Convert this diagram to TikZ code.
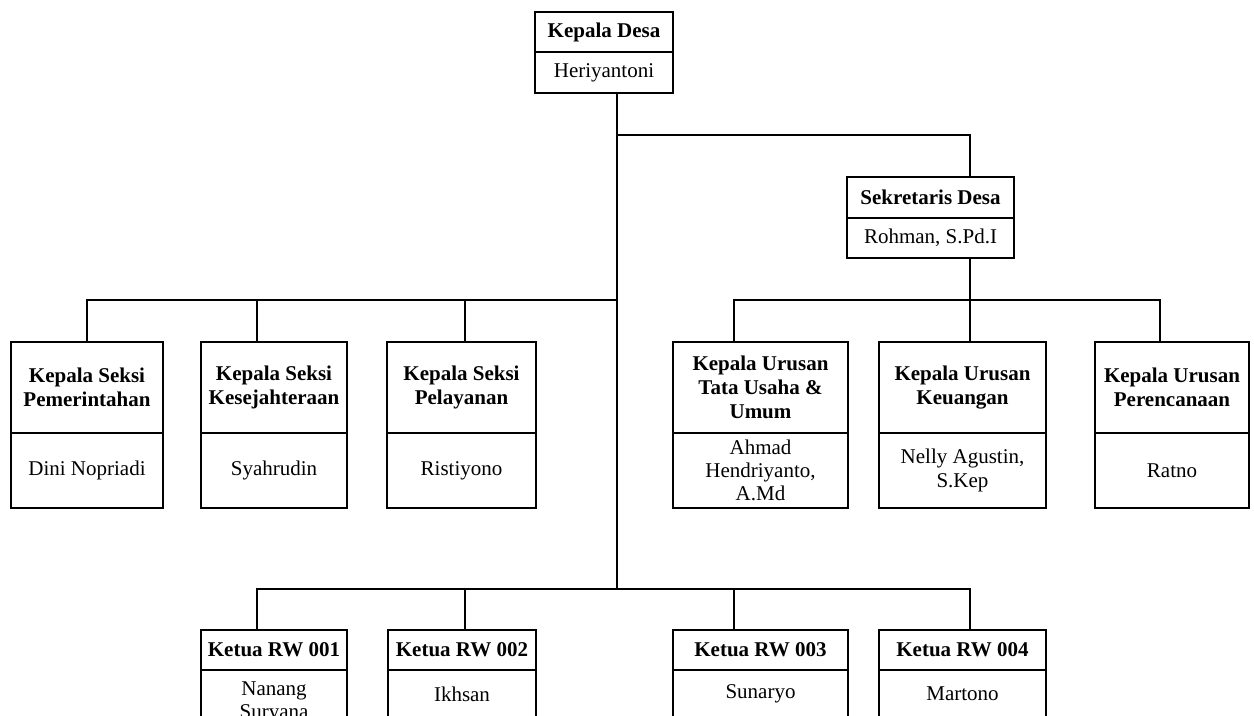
\documentclass[tikz,border=0pt]{standalone}
\usepackage{fontspec}
\setmainfont{Liberation Serif}

\tikzset{
  head/.style={draw, line width=1pt, align=center, inner sep=0pt, fill=white,
    font=\fontsize{10.5}{11.9}\selectfont\bfseries},
  person/.style={draw, line width=1pt, align=center, inner sep=0pt, fill=white,
    font=\fontsize{10.5}{11.6}\selectfont},
  link/.style={line width=1pt}
}

\begin{document}
\begin{tikzpicture}[x=0.5pt,y=-0.5pt]
\useasboundingbox (0,0) rectangle (1254,716);
\clip (0,0) rectangle (1254,716);

% columns of the stems and the trunk
\coordinate (x1) at (87,0);
\coordinate (x2) at (257,0);
\coordinate (x3) at (465,0);
\coordinate (x4) at (734,0);
\coordinate (x5) at (970,0);
\coordinate (x6) at (1160,0);
\coordinate (t1) at (617,135);
\coordinate (t2) at (617,300);
\coordinate (t3) at (617,589);

% kepala desa
\node[head, minimum width=69pt, minimum height=20pt] at (604,32) (kdh) {Kepala Desa};
\node[person, minimum width=69pt, minimum height=20.5pt] at (604,72.5) (kdn) {Heriyantoni};

% sekretaris
\node[head, minimum width=83.5pt, minimum height=20.5pt] at (930.5,197.5) (sdh) {Sekretaris Desa};
\node[person, minimum width=83.5pt, minimum height=20pt] at (930.5,238) (sdn) {Rohman, S.Pd.I};

% kepala seksi
\node[head, minimum width=76pt, minimum height=45.5pt] at (87,387.5) (kasi1) {Kepala Seksi\\Pemerintahan};
\node[person, minimum width=76pt, minimum height=37.5pt] at (87,470.5) (kasin1) {Dini Nopriadi};
\node[head, minimum width=73pt, minimum height=45.5pt] at (274,387.5) (kasi2) {Kepala Seksi\\Kesejahteraan};
\node[person, minimum width=73pt, minimum height=37.5pt] at (274,470.5) (kasin2) {Syahrudin};
\node[head, minimum width=74.5pt, minimum height=45.5pt] at (461.5,387.5) (kasi3) {Kepala Seksi\\Pelayanan};
\node[person, minimum width=74.5pt, minimum height=37.5pt] at (461.5,470.5) (kasin3) {Ristiyono};

% kepala urusan
\node[head, minimum width=87.5pt, minimum height=45.5pt] at (760.5,387.5) (kaur1) {Kepala Urusan\\Tata Usaha \&\\Umum};
\node[person, minimum width=87.5pt, minimum height=37.5pt] at (760.5,470.5) (kaurn1) {Ahmad\\Hendriyanto,\\A.Md};
\node[head, minimum width=83.5pt, minimum height=45.5pt] at (962.5,387.5) (kaur2) {Kepala Urusan\\Keuangan};
\node[person, minimum width=83.5pt, minimum height=37.5pt] at (962.5,470.5) (kaurn2) {Nelly Agustin,\\S.Kep};
\node[head, minimum width=77pt, minimum height=45.5pt] at (1172,387.5) (kaur3) {Kepala Urusan\\Perencanaan};
\node[person, minimum width=77pt, minimum height=37.5pt] at (1172,470.5) (kaurn3) {Ratno};

% ketua rw
\node[head, minimum width=73pt, minimum height=20pt] at (274,650) (rw1) {Ketua RW 001};
\node[person, minimum width=73pt, minimum height=32pt] at (274,702) (rwn1) {Nanang\\Suryana};
\node[head, minimum width=74pt, minimum height=20pt] at (462,650) (rw2) {Ketua RW 002};
\node[person, minimum width=74pt, minimum height=24pt] at (462,694) (rwn2) {Ikhsan};
\node[head, minimum width=87.5pt, minimum height=20pt] at (760.5,650) (rw3) {Ketua RW 003};
\node[person, minimum width=87.5pt, minimum height=24pt] at (760.5,694) (rwn3) {Sunaryo};
\node[head, minimum width=83.5pt, minimum height=20pt] at (962.5,650) (rw4) {Ketua RW 004};
\node[person, minimum width=83.5pt, minimum height=24pt] at (962.5,694) (rwn4) {Martono};

% lines
\draw[link] (kdn.south -| t1) -- (t3);
\draw[link] (t1) -| (x5 |- sdh.north);
\draw[link] (x1 |- kasi1.north) |- (t2);
\draw[link] (x2 |- t2) -- (x2 |- kasi2.north);
\draw[link] (x3 |- t2) -- (x3 |- kasi3.north);
\draw[link] (x5 |- sdn.south) -- (x5 |- kaur2.north);
\draw[link] (x4 |- kaur1.north) |- (x6 |- t2) -- (x6 |- kaur3.north);
\draw[link] (x2 |- rw1.north) |- (x5 |- t3) -- (x5 |- rw4.north);
\draw[link] (x3 |- t3) -- (x3 |- rw2.north);
\draw[link] (x4 |- t3) -- (x4 |- rw3.north);
\end{tikzpicture}
\end{document}
